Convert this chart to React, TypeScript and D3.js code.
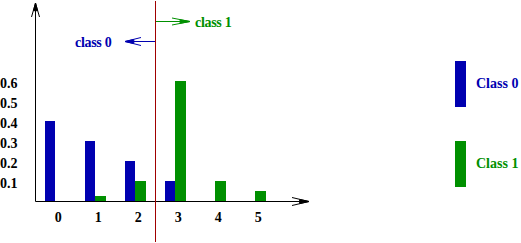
import React from "react";
import * as d3 from "d3";

const categories = ["0", "1", "2", "3", "4", "5"];
const class0 = [0.4, 0.3, 0.2, 0.1, 0, 0];
const class1 = [0, 0.025, 0.1, 0.6, 0.1, 0.05];
const yTicks = [0.1, 0.2, 0.3, 0.4, 0.5, 0.6];
const legend = ["Class 0", "Class 1"];
const notes = ["class 0", "class 1"];

const BLUE = "#0000b0";
const GREEN = "#009000";
const RED = "#a00000";
const FONT = "'Liberation Serif', 'DejaVu Serif', serif";
const FS = 14;

function Arrow({ x, y, dir, color, len = 16, half = 4 }: { x: number; y: number; dir: "left" | "right" | "up"; color: string; len?: number; half?: number }) {
  let p1: [number, number], p2: [number, number], c2: [number, number], c3: [number, number];
  if (dir === "right") {
    p1 = [x - len, y - half]; p2 = [x - len, y + half];
    c2 = [x - len * 0.55, y - half * 0.5]; c3 = [x - len * 0.55, y + half * 0.5];
  } else if (dir === "left") {
    p1 = [x + len, y - half]; p2 = [x + len, y + half];
    c2 = [x + len * 0.55, y - half * 0.5]; c3 = [x + len * 0.55, y + half * 0.5];
  } else {
    p1 = [x - half, y + len]; p2 = [x + half, y + len];
    c2 = [x - half * 0.5, y + len * 0.55]; c3 = [x + half * 0.5, y + len * 0.55];
  }
  return (
    <g stroke={color} fill={color} strokeWidth={1}>
      <polyline points={`${p1[0]},${p1[1]} ${x},${y} ${p2[0]},${p2[1]}`} fill="none" />
      <polygon points={`${x},${y} ${c2[0]},${c2[1]} ${c3[0]},${c3[1]}`} />
    </g>
  );
}

export default function App() {
  const x = d3.scaleLinear().domain([0, 1]).range([45, 85]);
  const bwBlue = 10;
  const bwGreen = 11;
  const y = d3.scaleLinear().domain([0, 0.6]).range([201, 81]);
  const legY = d3.scaleLinear().domain([0, 1]).range([61, 141]);

  return (
    <svg width={521} height={243} style={{ position: "fixed", left: 0, top: 0, background: "#fff" }}>
      <rect width={521} height={243} fill="#fff" />
      {class0.map((v, i) => (
        <rect key={"b" + i} x={x(i)} y={y(v)} width={bwBlue} height={y(0) - y(v)} fill={BLUE} />
      ))}
      {class1.map((v, i) => (
        <rect key={"g" + i} x={x(i) + bwBlue} y={y(v)} width={bwGreen} height={y(0) - y(v)} fill={GREEN} />
      ))}
      {/* axes */}
      <line x1={35.5} y1={3} x2={35.5} y2={201.5} stroke="#000" />
      <Arrow x={35.5} y={3} dir="up" color="#000" len={14} half={4} />
      <line x1={35.5} y1={201.5} x2={309} y2={201.5} stroke="#000" />
      <Arrow x={309} y={201.5} dir="right" color="#000" len={17} half={4} />
      {yTicks.map((t) => (
        <text key={t} x={0} y={y(t) + 6.5} fontFamily={FONT} fontWeight="bold" fontSize={FS} fill="#000">
          {t.toFixed(1)}
        </text>
      ))}
      {categories.map((c, i) => (
        <text key={c} x={x(i) + 13.3} y={221.5} textAnchor="middle" fontFamily={FONT} fontWeight="bold" fontSize={FS} fill="#000">
          {c}
        </text>
      ))}
      {/* decision line */}
      <line x1={155.5} y1={1} x2={155.5} y2={242} stroke={RED} />
      <line x1={125} y1={41.5} x2={155} y2={41.5} stroke={BLUE} />
      <Arrow x={125} y={41.5} dir="left" color={BLUE} len={16} half={4} />
      <text x={75} y={46.5} fontFamily={FONT} fontWeight="bold" fontSize={FS} fill={BLUE} letterSpacing={-0.3}>{notes[0]}</text>
      <line x1={156} y1={21.5} x2={190} y2={21.5} stroke={GREEN} />
      <Arrow x={190} y={21.5} dir="right" color={GREEN} len={18} half={3.5} />
      <text x={195} y={27} fontFamily={FONT} fontWeight="bold" fontSize={FS} fill={GREEN} letterSpacing={-0.3}>{notes[1]}</text>
      {/* legend */}
      {legend.map((l, i) => (
        <g key={l}>
          <rect x={455} y={legY(i)} width={11} height={46} fill={i === 0 ? BLUE : GREEN} />
          <text x={476} y={legY(i) + 26.5} fontFamily={FONT} fontWeight="bold" fontSize={FS} fill={i === 0 ? BLUE : GREEN}>{l}</text>
        </g>
      ))}
    </svg>
  );
}
